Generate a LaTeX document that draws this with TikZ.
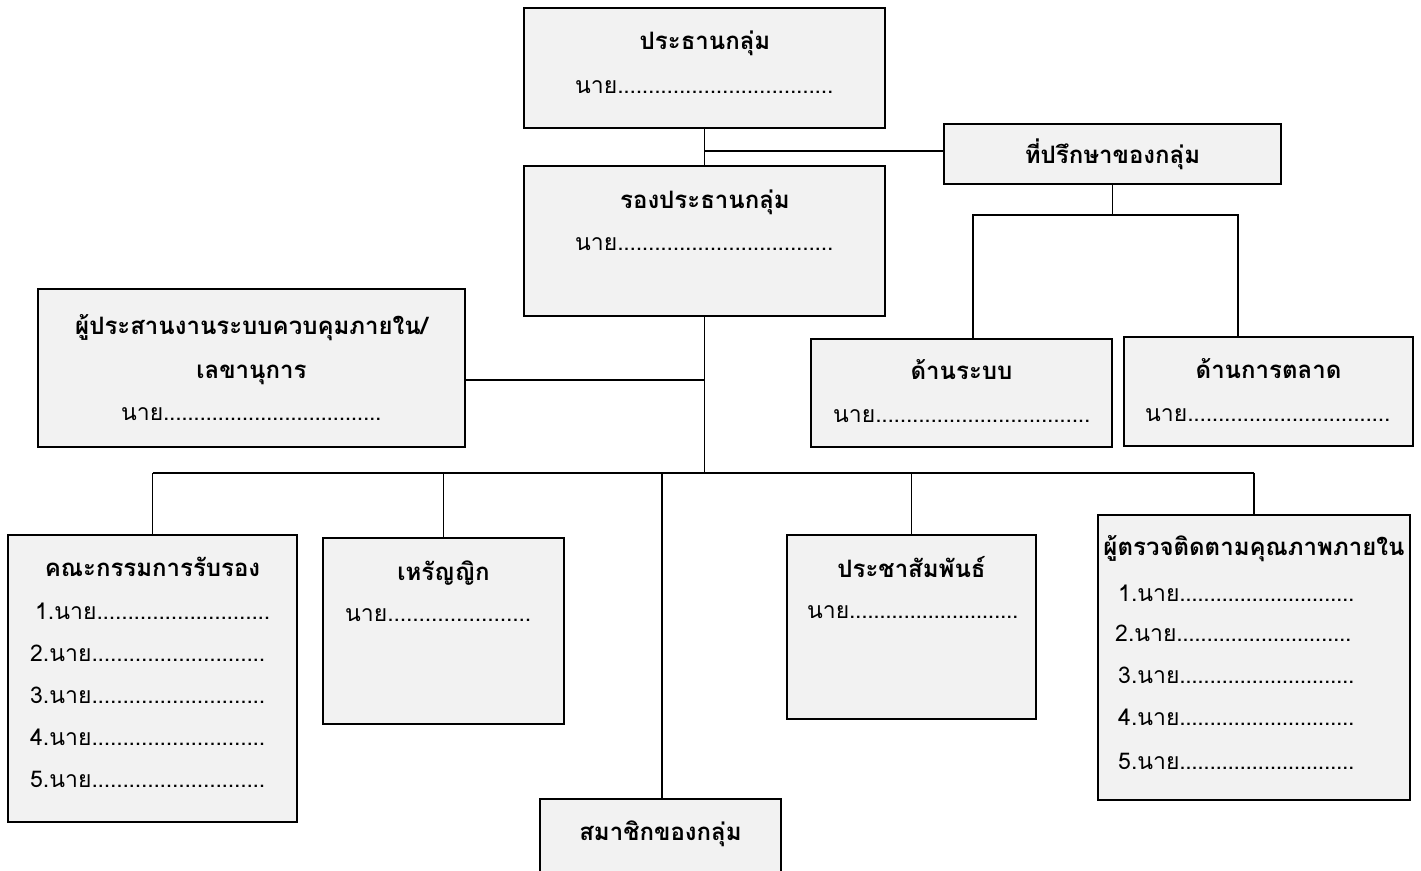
\documentclass[tikz,border=0pt]{standalone}
\usepackage{fontspec}
\newfontfamily\thaifont[Script=Thai]{Loma}
\newcommand\nline[2]{\makebox[#1][l]{#2\xleaders\hbox to 6pt{\hss.\hss}\hfill}}
\begin{document}
\begin{tikzpicture}[x=1pt,y=-1pt,
  box/.style={draw=black,line width=2pt,fill=boxgray,inner sep=0pt},
  conn/.style={draw=black,line width=1.9pt},
  ttl/.style={font=\thaifont\bfseries\fontsize{24}{28}\selectfont,inner sep=0pt,anchor=mid,yshift=-3pt},
  nm/.style={font=\thaifont\fontsize{23}{27}\selectfont,inner sep=0pt,anchor=mid west,yshift=-3pt}]
\definecolor{boxgray}{HTML}{F2F2F2}
\useasboundingbox (0,0) rectangle (1421,870);
% boxes
\node[box,minimum width=361,minimum height=120] (pres) at (704.5,68) {};
\node[box,minimum width=361,minimum height=150] (vp) at (704.5,241) {};
\node[box,minimum width=337,minimum height=60] (adv) at (1112.5,154) {};
\node[box,minimum width=301,minimum height=108] (sys) at (961.5,393) {};
\node[box,minimum width=289,minimum height=109] (mkt) at (1268.5,391.5) {};
\node[box,minimum width=427,minimum height=158] (sec) at (251.5,368) {};
\node[box,minimum width=289,minimum height=287] (com) at (152.5,678.5) {};
\node[box,minimum width=241,minimum height=186] (tre) at (443.5,631) {};
\node[box,minimum width=249,minimum height=184] (pr) at (911.5,627) {};
\node[box,minimum width=312,minimum height=285] (aud) at (1254,657.5) {};
\node[box,minimum width=241,minimum height=90] (mem) at (660.5,844) {};
% texts
\node[ttl] (presT) at (705,44) {ประธานกลุ่ม};
\node[nm] (presN) at (575,88) {\nline{258pt}{นาย}};
\node[ttl] (vpT) at (705,203) {รองประธานกลุ่ม};
\node[nm] (vpN) at (575,245) {\nline{258pt}{นาย}};
\node[ttl] (advT) at (1112.5,158) {ที่ปรึกษาของกลุ่ม};
\node[ttl] (sysT) at (961.5,374) {ด้านระบบ};
\node[nm] (sysN) at (833,417) {\nline{257pt}{นาย}};
\node[ttl] (mktT) at (1268.5,373) {ด้านการตลาด};
\node[nm] (mktN) at (1145,416) {\nline{245pt}{นาย}};
\node[ttl] (secT1) at (251.5,329) {ผู้ประสานงานระบบควบคุมภายใน/};
\node[ttl] (secT2) at (251.5,373) {เลขานุการ};
\node[nm] (secN) at (121,415) {\nline{260pt}{นาย}};
\node[ttl] (comT) at (152.5,571) {คณะกรรมการรับรอง};
\node[nm] (com1) at (35,614) {\nline{235pt}{1.นาย}};
\node[nm] (com2) at (30,656) {\nline{235pt}{2.นาย}};
\node[nm] (com3) at (30,698) {\nline{235pt}{3.นาย}};
\node[nm] (com4) at (30,740) {\nline{235pt}{4.นาย}};
\node[nm] (com5) at (30,782) {\nline{235pt}{5.นาย}};
\node[ttl] (treT) at (443.5,575) {เหรัญญิก};
\node[nm] (treN) at (345,616) {\nline{186pt}{นาย}};
\node[ttl] (prT) at (911.5,572) {ประชาสัมพันธ์};
\node[nm] (prN) at (807,613) {\nline{211pt}{นาย}};
\node[ttl] (audT) at (1254,550) {ผู้ตรวจติดตามคุณภาพภายใน};
\node[nm] (aud1) at (1118,596) {\nline{236pt}{1.นาย}};
\node[nm] (aud2) at (1115,636) {\nline{236pt}{2.นาย}};
\node[nm] (aud3) at (1118,678) {\nline{236pt}{3.นาย}};
\node[nm] (aud4) at (1118,720) {\nline{236pt}{4.นาย}};
\node[nm] (aud5) at (1118,764) {\nline{236pt}{5.นาย}};
\node[ttl] (memT) at (660.5,835) {สมาชิกของกลุ่ม};
% connectors
\coordinate (trunk) at (704.5,473);
\coordinate (advj) at (1112.5,215);
\draw[conn] (pres.south) -- (vp.north);
\draw[conn] ([yshift=3pt]adv.west) -- ([yshift=3pt]adv.west -| pres.south);
\draw[conn] (adv.south) -- (advj);
\draw[conn] ([xshift=11.5pt]sys.north) |- (advj) -| ([xshift=-30.5pt]mkt.north);
\draw[conn] (vp.south) -- (trunk);
\draw[conn] ([yshift=-12pt]sec.east) -- ([yshift=-12pt]sec.east -| trunk);
\draw[conn] (com.north |- trunk) -- (aud.north |- trunk);
\draw[conn] (com.north) -- (com.north |- trunk);
\draw[conn] (tre.north) -- (tre.north |- trunk);
\draw[conn] ([xshift=1.5pt]mem.north) -- ([xshift=1.5pt]mem.north |- trunk);
\draw[conn] (pr.north) -- (pr.north |- trunk);
\draw[conn] (aud.north) -- (aud.north |- trunk);
\end{tikzpicture}
\end{document}
